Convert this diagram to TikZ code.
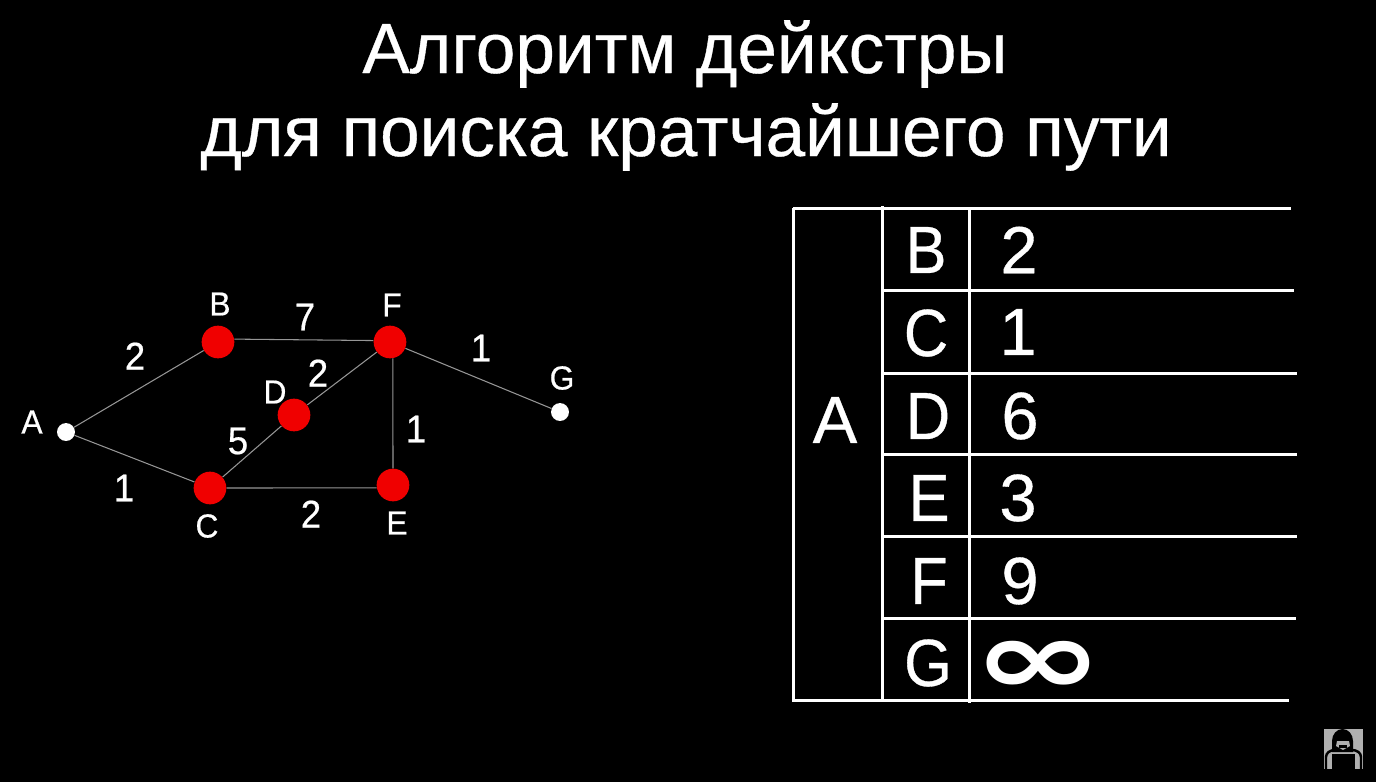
\documentclass[tikz,border=0pt]{standalone}
\usepackage{fontspec}
\usepackage{graphicx}
\setmainfont{Liberation Sans}
\newfontfamily\titleFont[FakeBold=0.5]{Liberation Sans}
\newfontfamily\graphFont[FakeStretch=0.95,FakeBold=0.5]{Liberation Sans}
\newfontfamily\cellFont[FakeBold=0.5]{Liberation Sans}
\newfontfamily\keyFont[FakeStretch=0.92,FakeBold=0.5]{Liberation Sans}
\newfontfamily\symFont{DejaVu Sans}
\usepackage{xcolor}
\definecolor{edgeGray}{RGB}{150, 150, 150}
\definecolor{vertexRed}{RGB}{240, 0, 0}
\definecolor{iconGray}{RGB}{176, 176, 176}
\usetikzlibrary{positioning}

\begin{document}
\begin{tikzpicture}[
    x=0.02cm, y=-0.02cm,
    titleText/.style={
        font=\titleFont\fontsize{40.5}{46}\selectfont, text=white, inner sep=0pt
    },
    redVertex/.style={
        circle, fill=vertexRed, inner sep=0pt, minimum size=18.6pt
    },
    whiteVertex/.style={
        circle, fill=white, inner sep=0pt, minimum size=10.2pt
    },
    vertexLabel/.style={
        font=\graphFont\fontsize{19}{22}\selectfont, text=white, inner sep=0pt
    },
    weightLabel/.style={
        font=\graphFont\fontsize{22}{26}\selectfont, text=white, inner sep=0pt
    },
    edgeLine/.style={
        draw=edgeGray, line width=0.6pt
    },
    tableRule/.style={
        draw=white, line width=1.7pt
    },
    cellText/.style={
        font=\cellFont\fontsize{38}{44}\selectfont, text=white, inner sep=0pt
    },
    keyText/.style={
        font=\keyFont\fontsize{38}{44}\selectfont, text=white, inner sep=0pt
    }
]

    % Canvas
    \fill[black] (0,0) rectangle (1376,782);
    \useasboundingbox (0,0) rectangle (1376,782);

    % Title
    \node[titleText] (title1) at (685,54) {Алгоритм дейкстры};
    \node[titleText] (title2) at (686,137) {для поиска кратчайшего пути};

    % Vertices
    \node[whiteVertex] (vA) at (66,432) {};
    \node[redVertex] (vB) at (218,342) {};
    \node[redVertex] (vC) at (210,488) {};
    \node[redVertex] (vD) at (294,415) {};
    \node[redVertex] (vE) at (393,485) {};
    \node[redVertex] (vF) at (390,342) {};
    \node[whiteVertex] (vG) at (560,412) {};

    % Edges
    \draw[edgeLine] (vA) -- (vB);
    \draw[edgeLine] (vA) -- (vC);
    \draw[edgeLine] (vB.10) -- (vF.175);
    \draw[edgeLine] (vC) -- (vD);
    \draw[edgeLine] (vD) -- (vF);
    \draw[edgeLine] (vC) -- (vE.190);
    \draw[edgeLine] (vF.-80) -- (vE);
    \draw[edgeLine] (vF) -- (vG);

    % Vertex names
    \node[vertexLabel] (nameA) at (32,422) {A};
    \node[vertexLabel] (nameB) at (220,304) {B};
    \node[vertexLabel] (nameC) at (207,526) {C};
    \node[vertexLabel] (nameD) at (275,392) {D};
    \node[vertexLabel] (nameE) at (397,523) {E};
    \node[vertexLabel] (nameF) at (392,305) {F};
    \node[vertexLabel] (nameG) at (562,378) {G};

    % Edge weights
    \node[weightLabel] (wAB) at (135,356) {2};
    \node[weightLabel] (wAC) at (124,488) {1};
    \node[weightLabel] (wBF) at (305,317) {7};
    \node[weightLabel] (wDF) at (318,373) {2};
    \node[weightLabel] (wCD) at (238,441) {5};
    \node[weightLabel] (wCE) at (311,514) {2};
    \node[weightLabel] (wEF) at (416,429) {1};
    \node[weightLabel] (wFG) at (481,348) {1};

    % Table rules
    \draw[tableRule] (793,208) -- (793,702);
    \draw[tableRule] (882,206) -- (882,699);
    \draw[tableRule] (969,208) -- (969,703);
    \draw[tableRule] (793,208) -- (1291,208);
    \draw[tableRule] (793,700) -- (1289,700);
    \foreach \ruleY/\ruleEnd in {290/1294, 373/1297, 454/1297, 536/1297, 618/1296} {
        \draw[tableRule] (882,\ruleY) -- (\ruleEnd,\ruleY);
    }

    % Table text
    \node[cellText] (cellA) at (835,420) {A};
    \node[keyText] (keyB) at (926,250) {B};
    \node[keyText] (keyC) at (926,333) {C};
    \node[keyText] (keyD) at (928,416) {D};
    \node[keyText] (keyE) at (929,498) {E};
    \node[keyText] (keyF) at (929,581) {F};
    \node[keyText] (keyG) at (928,663) {G};
    \node[cellText] (distB) at (1019,250) {2};
    \node[cellText] (distC) at (1018,332) {1};
    \node[cellText] (distD) at (1020,416) {6};
    \node[cellText] (distE) at (1018,498) {3};
    \node[cellText] (distF) at (1020,581) {9};
    \node[cellText, font=\symFont\bfseries\fontsize{60}{64}\selectfont] (distG) at (1038,668) {\scalebox{1.5}[1]{∞}};

    % Channel icon
    \fill[iconGray] (1324,729) rectangle (1363,769);
    \draw[black, line width=1.4pt] (1326,769) -- (1326,757) to[out=90, in=180] (1335,750)
        -- (1352,750) to[out=0, in=90] (1361,757) -- (1361,769);
    \fill[black] (1332,754) rectangle (1355,769);
    \fill[black] (1332,752) -- (1332,741) arc[start angle=180, end angle=360, x radius=10.5, y radius=12] -- (1353,752) -- cycle;
    \fill[iconGray] (1337,741) -- (1349,741) -- (1350,746) -- (1343,750) -- (1336,746) -- cycle;
    \fill[black] (1339,745) rectangle (1347,748);

\end{tikzpicture}
\end{document}
